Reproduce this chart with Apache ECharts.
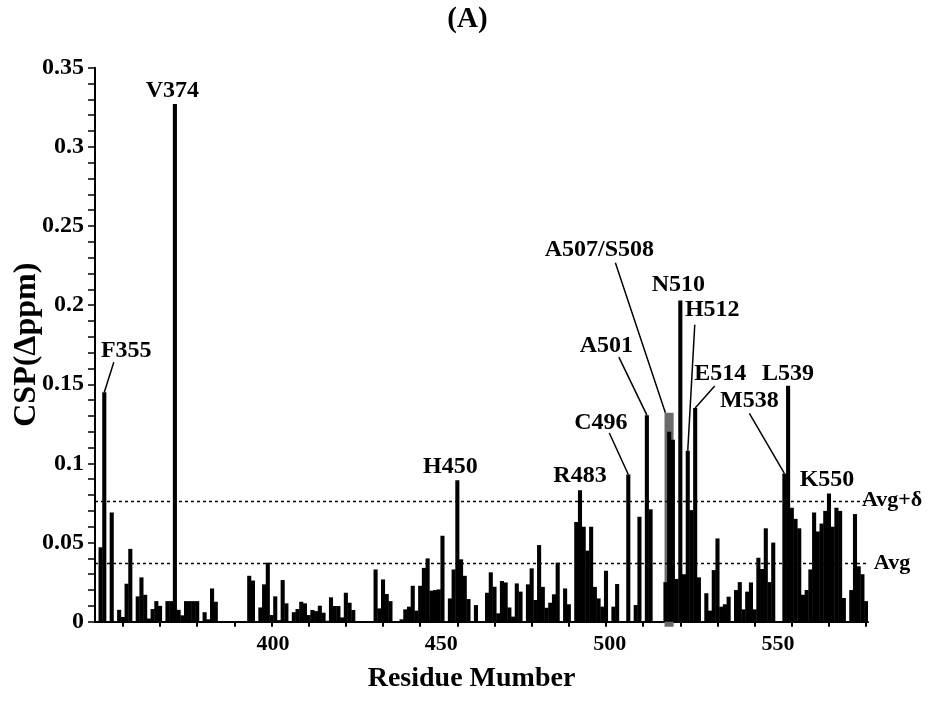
<!DOCTYPE html>
<html><head><meta charset="utf-8">
<script src="https://cdn.jsdelivr.net/npm/echarts@6/dist/echarts.min.js"></script>
<style>html,body{margin:0;padding:0;background:#fff}#c{width:935px;height:704px}</style>
</head><body><div id="c"></div>
<script>
// ---------------- DATA ----------------
const firstResidue = 353;
const lastResidue = 560;
// CSP (Δppm) per residue, starting at residue 353
const cspValues = [
  0, 0.047, 0.145, 0, 0.069, 0, 0.0075, 0.003, 0.024, 0.046,          // 353-362
  0, 0.016, 0.028, 0.017, 0.002, 0.008, 0.013, 0.010, 0, 0.013,        // 363-372
  0.013, 0.327, 0.0075, 0.004, 0.013, 0.013, 0.013, 0.013, 0, 0.006,   // 373-382
  0.0015, 0.021, 0.0126, 0, 0, 0, 0, 0, 0, 0,                          // 383-392
  0, 0.029, 0.026, 0, 0.009, 0.0236, 0.0373, 0.0042, 0.016, 0.001,     // 393-402
  0.0263, 0.0116, 0, 0.006, 0.008, 0.0126, 0.0116, 0.0042, 0.0074, 0.0067, // 403-412
  0.0101, 0.0057, 0.0006, 0.0154, 0.0099, 0.0099, 0.0027, 0.0183, 0.012, 0.0074, // 413-422
  0, 0, 0, 0, 0, 0.033, 0.0084, 0.0267, 0.0175, 0.013,                 // 423-432
  0, 0, 0.0015, 0.0078, 0.0095, 0.0227, 0.007, 0.0227, 0.034, 0.040,   // 433-442
  0.0196, 0.020, 0.0204, 0.0543, 0, 0.0147, 0.033, 0.0893, 0.0394, 0.029, // 443-452
  0.0143, 0, 0.0105, 0, 0, 0.0183, 0.0312, 0.0221, 0.0053, 0.0257,     // 453-462
  0.0248, 0.009, 0.0032, 0.0242, 0.019, 0, 0.0236, 0.0337, 0.0137, 0.0484, // 463-472
  0.022, 0.0088, 0.012, 0.0173, 0.0373, 0, 0.021, 0.011, 0, 0.063,     // 473-482
  0.083, 0.060, 0.0449, 0.060, 0.022, 0.0147, 0.0095, 0.0322, 0, 0.0095, // 483-492
  0.0238, 0, 0, 0.093, 0, 0.0105, 0.0663, 0, 0.1305, 0.071,            // 493-502
  0, 0, 0, 0.025, 0.12, 0.115, 0.027, 0.203, 0.03, 0.108,              // 503-512
  0.0705, 0.135, 0.028, 0, 0.018, 0.007, 0.0326, 0.0526, 0.0095, 0.011, // 513-522
  0.0158, 0, 0.02, 0.025, 0.0078, 0.019, 0.0248, 0.0078, 0.0404, 0.0333, // 523-532
  0.059, 0.025, 0.05, 0, 0, 0.0937, 0.149, 0.072, 0.065, 0.059,        // 533-542
  0.017, 0.02, 0.033, 0.069, 0.057, 0.062, 0.07, 0.081, 0.06, 0.072,   // 543-552
  0.07, 0.015, 0, 0.02, 0.068, 0.035, 0.03, 0.013                      // 553-560
];
const avgValue = 0.0369;
const avgPlusDeltaValue = 0.0764;
const highlightResidues = [507, 508];
const highlightTop = 0.132;
const annoResidues = [355, 374, 450, 483, 496, 501, 507, 510, 512, 514, 538, 539, 550];
const annoTexts = ['F355', 'V374', 'H450', 'R483', 'C496', 'A501', 'A507/S508', 'N510', 'H512', 'E514', 'M538', 'L539', 'K550'];
const xTickLabels = [400, 450, 500, 550];
const yMax = 0.35, yInterval = 0.05;

// ---------------- LAYOUT / STYLE ----------------
const FONT = '"Liberation Serif", "Times New Roman", serif';
const grid = { left: 95, right: 67, top: 67.7, bottom: 82.3, containLabel: false, outerBoundsMode: 'none' };
const labelAxisRange = [347.13, 576.73];   // scale of the printed tick labels
// label offset [dx,dy] from anchor (bar top), optional leader start [dx,dy]
const annoLayout = {
  'F355': { label: [22, -41], leader: [9.5, -30] },
  'V374': { label: [-2.5, -13] },
  'H450': { label: [-7, -14] },
  'R483': { label: [0, -15] },
  'C496': { label: [-27.5, -52], leader: [-19, -41.5] },
  'A501': { label: [-40.5, -69], leader: [-28, -58] },
  'A507/S508': { label: [-66, -163], leader: [-50, -150], anchorShift: -3.8 },
  'N510': { label: [-2, -16] },
  'H512': { label: [24.5, -141], leader: [7, -126] },
  'E514': { label: [25, -34], leader: [19.5, -22] },
  'M538': { label: [-35, -73], leader: [-35, -60] },
  'L539': { label: [0, -12] },
  'K550': { label: [-2, -14] }
};

// ---------------- BUILD ----------------
const categories = [];
for (let r = firstResidue; r <= lastResidue; r++) categories.push(String(r));
const idxOf = r => categories.indexOf(String(r));

const annoData = annoResidues.map((r, i) => {
  const v = annoTexts[i] === 'A507/S508' ? highlightTop : cspValues[idxOf(r)];
  return [idxOf(r), v, i];
});

const chart = echarts.init(document.getElementById('c'), null, { renderer: 'canvas' });
chart.setOption({
  backgroundColor: '#fff',
  animation: false,
  textStyle: { fontFamily: FONT },
  title: {
    text: '(A)', left: 'center', top: 0,
    textStyle: { fontFamily: FONT, fontWeight: 'bold', fontSize: 29, color: '#000' }
  },
  grid: grid,
  xAxis: [{
    type: 'category',
    data: categories,
    boundaryGap: true,
    name: 'Residue Mumber',
    nameLocation: 'middle',
    nameGap: 43,
    nameMoveOverlap: false,
    nameTextStyle: { fontFamily: FONT, fontWeight: 'bold', fontSize: 28, color: '#000', padding: [0, 20, 0, 0] },
    axisLine: { show: true, onZero: false, lineStyle: { color: '#000', width: 2 } },
    axisTick: {
      show: true, alignWithLabel: true, length: 5,
      interval: (i, v) => Number(v) % 10 === 0,
      lineStyle: { color: '#000', width: 2 }
    },
    axisLabel: { show: false },
    splitLine: { show: false }
  }, {
    type: 'value',
    position: 'bottom',
    min: labelAxisRange[0], max: labelAxisRange[1],
    axisLine: { show: false }, axisTick: { show: false }, splitLine: { show: false },
    axisLabel: {
      show: true, customValues: xTickLabels, margin: 12,
      fontFamily: FONT, fontWeight: 'bold', fontSize: 22, color: '#000'
    }
  }],
  yAxis: {
    type: 'value',
    min: 0, max: yMax, interval: yInterval,
    name: 'CSP(Δppm)',
    nameLocation: 'middle',
    nameGap: 52,
    nameMoveOverlap: false,
    nameTextStyle: { fontFamily: FONT, fontWeight: 'bold', fontSize: 32, color: '#000' },
    axisLine: { show: true, lineStyle: { color: '#000', width: 2 } },
    axisTick: { show: true, length: 7, lineStyle: { color: '#000', width: 1.5 } },
    minorTick: { show: true, splitNumber: 5, length: 7, lineStyle: { color: '#000', width: 1.5 } },
    axisLabel: { fontFamily: FONT, fontWeight: 'bold', fontSize: 24, color: '#000', margin: 11 },
    splitLine: { show: false }
  },
  series: [{
    type: 'custom',
    name: 'highlight',
    xAxisIndex: 0,
    z: 1,
    data: [[idxOf(highlightResidues[0]), idxOf(highlightResidues[1]), highlightTop]],
    encode: { x: [0, 1], y: 2 },
    renderItem: function (params, api) {
      const bw = api.size([1, 0])[0];
      const pTop = api.coord([api.value(0), api.value(2)]);
      const pEnd = api.coord([api.value(1), 0]);
      const x1 = pTop[0] - bw * 1.25, x2 = pEnd[0] + bw * 0.2;
      return {
        type: 'rect',
        shape: { x: x1, y: pTop[1], width: x2 - x1, height: pEnd[1] - pTop[1] + 5 },
        style: { fill: '#6b6b6b' }
      };
    }
  }, {
    type: 'bar',
    name: 'CSP',
    xAxisIndex: 0,
    z: 2,
    data: cspValues,
    barWidth: 4.1,
    itemStyle: { color: '#000' },
    markLine: {
      silent: true, symbol: 'none', precision: 6,
      lineStyle: { color: '#000', type: [3, 3], width: 1.3 },
      label: { position: 'end', distance: [24, 2], align: 'center', fontFamily: FONT, fontWeight: 'bold', fontSize: 22, color: '#000' },
      data: [
        { yAxis: avgValue, label: { formatter: 'Avg' } },
        { yAxis: avgPlusDeltaValue, label: { formatter: 'Avg+δ' } }
      ]
    }
  }, {
    type: 'custom',
    name: 'annotations',
    xAxisIndex: 0,
    z: 5,
    data: annoData,
    encode: { x: 0, y: 1 },
    renderItem: function (params, api) {
      const txt = annoTexts[api.value(2)];
      const lay = annoLayout[txt];
      const p = api.coord([api.value(0), api.value(1)]);
      const ax = p[0] + (lay.anchorShift || 0), ay = p[1];
      const children = [{
        type: 'text',
        style: {
          text: txt, x: ax + lay.label[0], y: ay + lay.label[1],
          align: 'center', verticalAlign: 'middle',
          font: 'bold 24px ' + FONT, fill: '#000'
        }
      }];
      if (lay.leader) {
        children.push({
          type: 'line',
          shape: { x1: ax + lay.leader[0], y1: ay + lay.leader[1], x2: ax, y2: ay },
          style: { stroke: '#000', lineWidth: 1.5 }
        });
      }
      return { type: 'group', children: children };
    }
  }]
});
</script>
</body></html>
